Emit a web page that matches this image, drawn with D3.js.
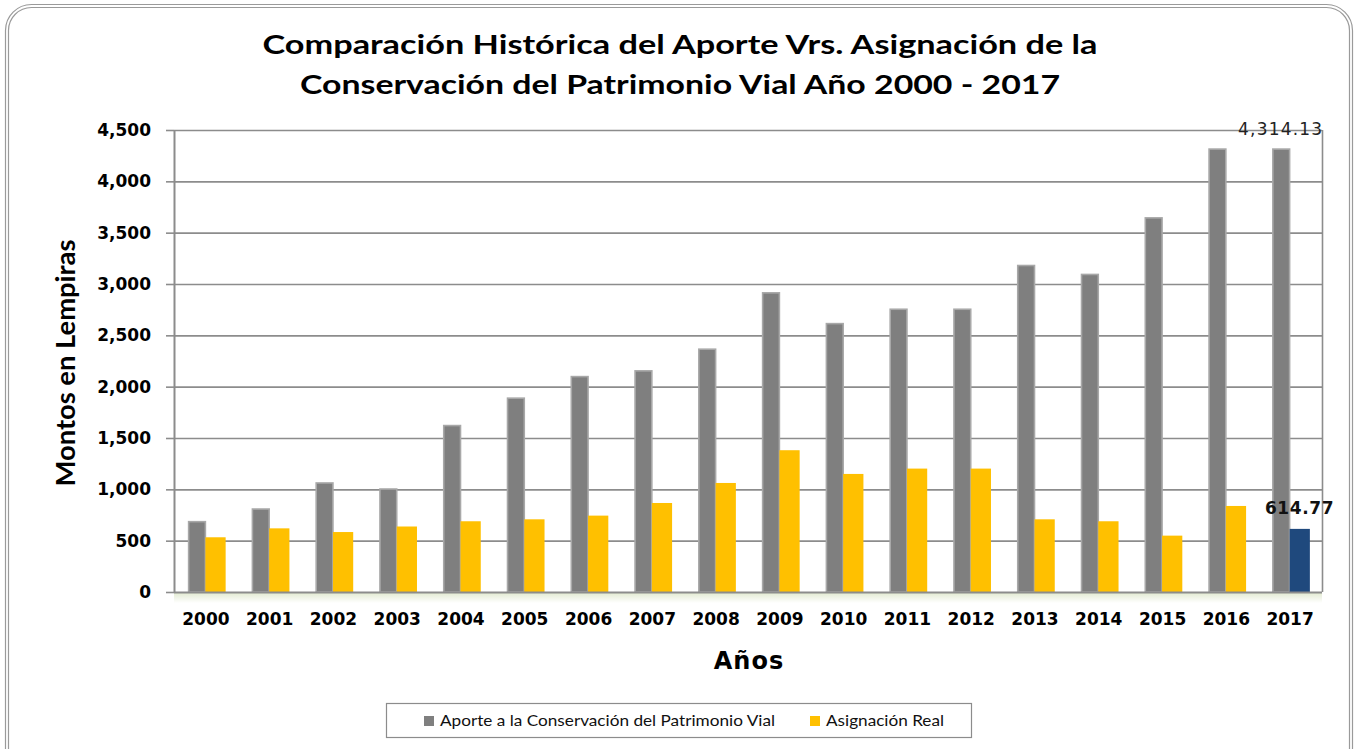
<!DOCTYPE html>
<html>
<head>
<meta charset="utf-8">
<script src="https://cdn.jsdelivr.net/npm/d3@7"></script>
<style>
  body { margin: 0; background: #fff; }
  svg { display: block; }
</style>
</head>
<body>
<svg width="1358" height="749"></svg>
<script>
var years = ["2000", "2001", "2002", "2003", "2004", "2005", "2006", "2007", "2008",
             "2009", "2010", "2011", "2012", "2013", "2014", "2015", "2016", "2017"];
var aporte = [685, 808, 1062, 1003, 1621, 1888, 2098, 2154, 2365,
              2914, 2614, 2754, 2754, 3180, 3093, 3644, 4314.13, 4314.13];
var asignacion = [533, 620, 584, 638, 689, 708, 744, 867, 1062,
                  1381, 1150, 1202, 1202, 708, 689, 549, 838, 614.77];
var yTicks = [0, 500, 1000, 1500, 2000, 2500, 3000, 3500, 4000, 4500];

var svg = d3.select("svg"),
    margin = {top: 130, right: 36, bottom: 157, left: 174},
    width = +svg.attr("width") - margin.left - margin.right,
    height = +svg.attr("height") - margin.top - margin.bottom;

// outer double rounded frame
svg.append("rect").attr("x", 5.5).attr("y", 4.5).attr("width", 1347).attr("height", 770)
    .attr("rx", 26).attr("fill", "none").attr("stroke", "#9a9a9a").attr("stroke-width", 1.2);
svg.append("rect").attr("x", 8.5).attr("y", 7.5).attr("width", 1341).attr("height", 764)
    .attr("rx", 23).attr("fill", "none").attr("stroke", "#9a9a9a").attr("stroke-width", 1.2);

var g = svg.append("g").attr("transform", "translate(" + margin.left + "," + margin.top + ")");

var x = d3.scaleBand().domain(years).range([0, width]);
var x1 = d3.scaleBand().domain(["a", "b"]).range([0, x.bandwidth()]).paddingOuter(0.7).paddingInner(0);
var y = d3.scaleLinear().domain([0, 4500]).range([height, 0]);

// soft shadow under the x axis
var defs = svg.append("defs");
var grad = defs.append("linearGradient").attr("id", "shadow").attr("x1", 0).attr("y1", 0).attr("x2", 0).attr("y2", 1);
grad.append("stop").attr("offset", "0%").attr("stop-color", "#e3ebd3");
grad.append("stop").attr("offset", "100%").attr("stop-color", "#ffffff");
g.append("rect").attr("x", 0).attr("y", height + 1).attr("width", width).attr("height", 10)
    .attr("fill", "url(#shadow)");

// gridlines
g.append("g")
    .selectAll("line")
    .data(yTicks.slice(1))
    .enter().append("line")
      .attr("x1", 0).attr("x2", width)
      .attr("y1", function(d) { return y(d) + 0.5; })
      .attr("y2", function(d) { return y(d) + 0.5; })
      .attr("stroke", "#8c8c8c").attr("stroke-width", 1.6);

// right border of plot area
g.append("line").attr("x1", width + 0.5).attr("x2", width + 0.5).attr("y1", 0).attr("y2", height)
    .attr("stroke", "#8c8c8c").attr("stroke-width", 1.6);

// bars
var bars = g.append("g").selectAll("g")
    .data(years)
    .enter().append("g")
      .attr("transform", function(d) { return "translate(" + x(d) + ",0)"; });

bars.append("rect")
    .attr("x", x1("a") + 1.5)
    .attr("y", function(d, i) { return y(aporte[i]); })
    .attr("width", x1.bandwidth() - 2)
    .attr("height", function(d, i) { return height - y(aporte[i]); })
    .attr("fill", "#7f7f7f")
    .attr("stroke", "#a8a8a8").attr("stroke-width", 1.6);

bars.append("rect")
    .attr("x", x1("b") - 0.5)
    .attr("y", function(d, i) { return y(asignacion[i]); })
    .attr("width", x1.bandwidth() + 1.5)
    .attr("height", function(d, i) { return height - y(asignacion[i]); })
    .attr("fill", function(d, i) { return i === years.length - 1 ? "#1f497d" : "#ffc000"; });

// axes
var yAxis = g.append("g")
    .call(d3.axisLeft(y).tickValues(yTicks).tickSize(8).tickPadding(15).tickFormat(d3.format(",")));
yAxis.select(".domain").attr("stroke", "#8c8c8c").attr("stroke-width", 2).attr("d", "M0.5,0V" + height);
yAxis.selectAll(".tick line").attr("stroke", "#8c8c8c").attr("stroke-width", 1.6);
yAxis.selectAll("text")
    .style("font", "bold 17px 'DejaVu Sans'").attr("fill", "#000");

var xAxis = g.append("g")
    .attr("transform", "translate(0," + height + ")")
    .call(d3.axisBottom(x).tickSize(0).tickPadding(21));
xAxis.select(".domain").attr("stroke", "#8c8c8c").attr("stroke-width", 2).attr("d", "M0,0.5H" + width);
xAxis.selectAll("text")
    .style("font", "bold 17px 'DejaVu Sans'").attr("fill", "#000");

// data labels
var last = years[years.length - 1];
g.append("text")
    .attr("x", x(last) + x1("a") + x1.bandwidth() / 2)
    .attr("y", y(4314.13) - 14)
    .attr("text-anchor", "middle")
    .style("font", "17px 'DejaVu Sans'").style("letter-spacing", "1.2px")
    .attr("fill", "#222")
    .text(d3.format(",.2f")(aporte[aporte.length - 1]));

g.append("text")
    .attr("x", x(last) + x1("b") + x1.bandwidth() / 2)
    .attr("y", y(614.77) - 15)
    .attr("text-anchor", "middle")
    .style("font", "bold 17px 'DejaVu Sans'").style("letter-spacing", "0.6px")
    .attr("fill", "#111")
    .text(d3.format(".2f")(asignacion[asignacion.length - 1]));

// titles
svg.append("text").attr("x", 680).attr("y", 54).attr("text-anchor", "middle")
    .style("font", "bold 26px Lato").attr("textLength", 835).attr("lengthAdjust", "spacingAndGlyphs")
    .text("Comparación Histórica del Aporte Vrs. Asignación de la");
svg.append("text").attr("x", 680).attr("y", 94).attr("text-anchor", "middle")
    .style("font", "bold 26px Lato").attr("textLength", 760).attr("lengthAdjust", "spacingAndGlyphs")
    .text("Conservación del Patrimonio Vial Año 2000 - 2017");

svg.append("text").attr("x", 749).attr("y", 669).attr("text-anchor", "middle")
    .style("font", "bold 24px 'DejaVu Sans'").style("letter-spacing", "1px")
    .text("Años");

svg.append("text")
    .attr("transform", "translate(75,363) rotate(-90)")
    .attr("text-anchor", "middle")
    .style("font", "bold 27px Lato").attr("textLength", 247).attr("lengthAdjust", "spacingAndGlyphs")
    .text("Montos en Lempiras");

// legend
var legend = svg.append("g");
legend.append("rect").attr("x", 386.5).attr("y", 703.5).attr("width", 585).attr("height", 34)
    .attr("fill", "#fff").attr("stroke", "#8c8c8c").attr("stroke-width", 1.2);
var items = [
  {label: "Aporte a la Conservación del Patrimonio Vial", color: "#7f7f7f", x: 424, w: 335},
  {label: "Asignación Real", color: "#ffc000", x: 810, w: 118}
];
items.forEach(function(it) {
  legend.append("rect").attr("x", it.x).attr("y", 716).attr("width", 10).attr("height", 10)
      .attr("fill", it.color);
  legend.append("text").attr("x", it.x + 16).attr("y", 726)
      .style("font", "15px Lato").attr("fill", "#111")
      .attr("textLength", it.w).attr("lengthAdjust", "spacingAndGlyphs")
      .text(it.label);
});
</script>
</body>
</html>
